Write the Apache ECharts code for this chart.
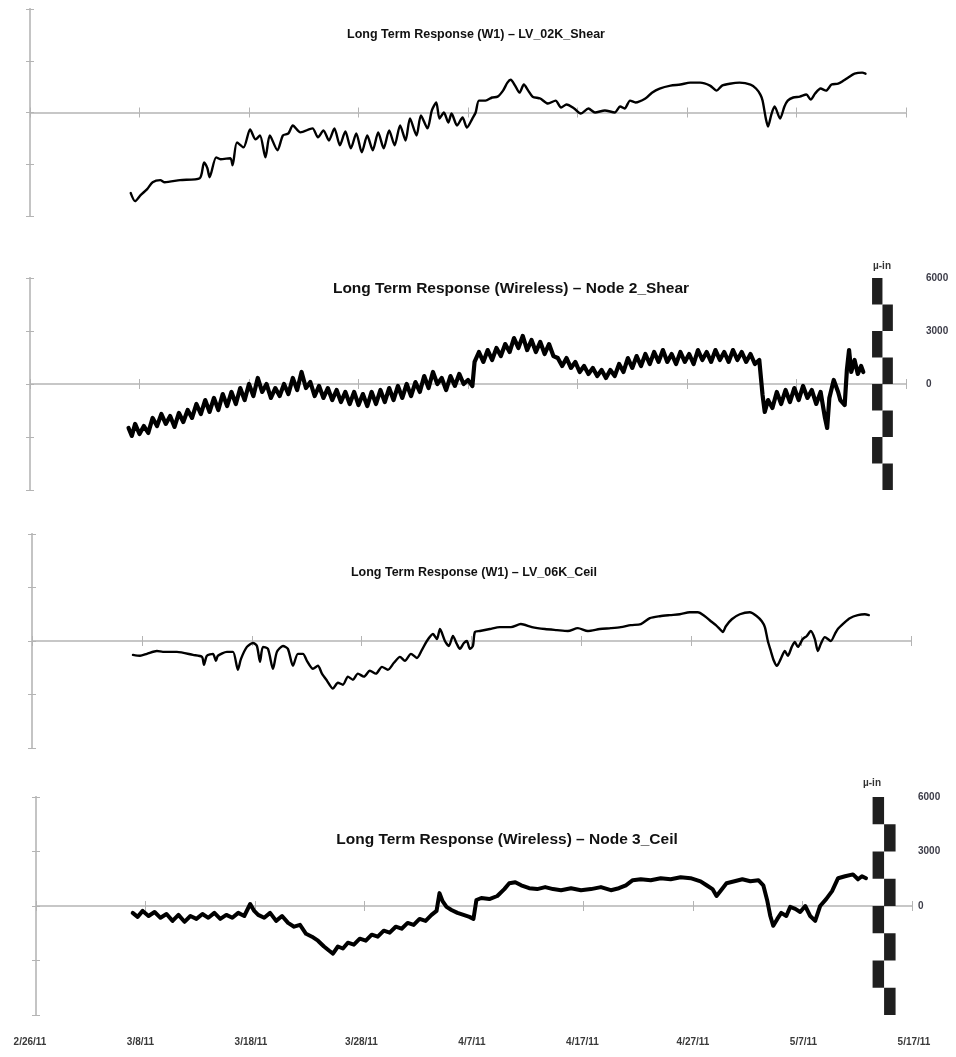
<!DOCTYPE html>
<html>
<head>
<meta charset="utf-8">
<script src="https://cdn.jsdelivr.net/npm/echarts/dist/echarts.min.js"></script>
<style>
  html, body { margin: 0; padding: 0; background: #fff; }
  #chart { width: 956px; height: 1057px; }
</style>
</head>
<body>
<div id="chart"></div>
<script>
// Days are counted from 2/26/11; strain values in micro-inches.
const dateTicks = ['2/26/11', '3/8/11', '3/18/11', '3/28/11', '4/7/11', '4/17/11', '4/27/11', '5/7/11', '5/17/11'];
const panelTitles = [
  'Long Term Response (W1) \u2013 LV_02K_Shear',
  'Long Term Response (Wireless) \u2013 Node 2_Shear',
  'Long Term Response (W1) \u2013 LV_06K_Ceil',
  'Long Term Response (Wireless) \u2013 Node 3_Ceil'
];
const scaleTicks = [6000, 3000, 0];
const scaleBlockTops = [6000, 4500, 3000, 1500, 0, -1500, -3000, -4500];
const scaleBlockSize = 1500;

const lv02kShear = [
  [9.2,-4670],[9.6,-5140],[10.1,-4790],[10.7,-4440],[11.2,-4040],[11.9,-3920],[12.3,-4040],[13.7,-3920],
  [15.5,-3810],[15.9,-2890],[16.2,-3230],[16.4,-3750],[17.0,-2600],[17.4,-2710],[18.3,-2650],[18.5,-3060],
  [18.9,-1730],[19.5,-2020],[20.1,-980],[20.6,-1560],[21.0,-1330],[21.5,-2600],[21.9,-1330],[22.6,-2190],
  [23.1,-1330],[23.6,-1210],[24.0,-750],[24.7,-1150],[25.8,-920],[26.3,-1440],[26.8,-1040],[27.3,-1620],
  [27.8,-920],[28.3,-1900],[28.8,-1100],[29.3,-2080],[29.8,-1210],[30.3,-2310],[30.8,-1330],[31.3,-2190],
  [31.8,-1150],[32.3,-2080],[32.8,-1040],[33.3,-1900],[33.8,-750],[34.3,-1620],[34.7,-350],[35.3,-1330],
  [35.7,-170],[36.3,-920],[36.7,120],[37.1,580],[37.4,-350],[37.8,0],[38.2,-580],[38.5,-60],[39.0,-750],
  [39.5,-290],[39.9,-870],[40.4,-350],[40.7,0],[41.0,690],[41.6,690],[42.2,870],[42.7,920],[43.2,1270],
  [43.6,1730],[43.9,1900],[44.3,1560],[44.7,1150],[45.1,1620],[45.5,1270],[45.9,920],[46.6,810],[47.3,520],
  [48.0,690],[48.5,290],[49.0,460],[49.7,230],[50.3,-60],[51.0,230],[51.6,0],[52.5,120],[53.4,0],[53.9,350],
  [54.3,230],[54.8,690],[55.3,580],[56.2,810],[56.8,1150],[57.5,1390],[58.5,1560],[59.4,1620],[60.3,1730],
  [61.2,1730],[62.1,1560],[62.7,1270],[63.2,1560],[63.9,1670],[64.8,1730],[65.8,1620],[66.3,1390],[66.7,1040],
  [66.9,690],[67.2,-350],[67.4,-810],[67.7,-120],[68.0,350],[68.5,-350],[68.9,350],[69.2,690],[69.7,870],
  [70.3,920],[70.9,1040],[71.3,750],[71.7,1100],[72.2,1390],[72.7,1270],[73.2,1620],[73.8,1670],[74.3,1850],
  [74.7,2020],[75.3,2250],[76.0,2310],[76.3,2250]
];

const node2Shear = [
  [9.0,-2490],[9.3,-2940],[9.6,-2260],[10.0,-2830],[10.4,-2380],[10.8,-2770],[11.2,-1920],[11.6,-2380],
  [12.0,-1700],[12.4,-2260],[12.8,-1810],[13.2,-2430],[13.6,-1640],[14.0,-2150],[14.4,-1470],[14.8,-1920],
  [15.2,-1130],[15.6,-1700],[16.0,-910],[16.4,-1580],[16.8,-790],[17.2,-1470],[17.6,-570],[18.0,-1250],
  [18.4,-450],[18.8,-1130],[19.2,-230],[19.6,-910],[20.0,0],[20.4,-680],[20.8,340],[21.2,-450],[21.6,0],
  [22.0,-790],[22.4,-230],[22.8,-680],[23.2,0],[23.6,-570],[24.0,340],[24.4,-340],[24.8,680],[25.2,-230],
  [25.6,110],[26.0,-680],[26.4,-110],[26.8,-790],[27.2,-230],[27.6,-910],[28.0,-340],[28.4,-1020],[28.8,-450],
  [29.2,-1130],[29.6,-450],[30.0,-1190],[30.4,-570],[30.8,-1250],[31.2,-450],[31.6,-1130],[32.0,-340],
  [32.4,-1020],[32.8,-230],[33.2,-910],[33.6,-110],[34.0,-790],[34.4,0],[34.8,-680],[35.2,110],[35.6,-450],
  [36.0,450],[36.4,-230],[36.8,680],[37.2,0],[37.6,340],[38.0,-340],[38.4,450],[38.8,-110],[39.2,570],
  [39.6,0],[40.0,230],[40.4,-110],[40.6,1250],[41.0,1810],[41.4,1250],[41.8,1920],[42.2,1360],[42.6,2040],
  [43.0,1580],[43.4,2260],[43.8,1810],[44.2,2600],[44.6,2040],[45.0,2720],[45.4,1920],[45.8,2490],[46.2,1810],
  [46.6,2380],[47.0,1700],[47.4,2260],[47.8,1580],[48.2,1470],[48.6,1020],[49.0,1470],[49.4,910],[49.8,1250],
  [50.2,680],[50.6,1020],[51.0,570],[51.4,910],[51.8,450],[52.2,790],[52.6,340],[53.0,790],[53.4,450],
  [53.8,1130],[54.2,680],[54.6,1470],[55.0,910],[55.4,1580],[55.8,1020],[56.2,1700],[56.6,1130],[57.0,1810],
  [57.4,1250],[57.8,1920],[58.2,1250],[58.6,1700],[59.0,1130],[59.4,1810],[59.8,1250],[60.2,1700],[60.6,1130],
  [61.0,1920],[61.4,1360],[61.8,1810],[62.2,1250],[62.6,1920],[63.0,1360],[63.4,1810],[63.8,1250],[64.2,1920],
  [64.6,1360],[65.0,1810],[65.4,1250],[65.8,1700],[66.2,1130],[66.6,1360],[66.9,-620],[67.1,-1580],[67.4,-910],
  [67.8,-1360],[68.2,-450],[68.6,-1130],[69.0,-340],[69.4,-1020],[69.8,-230],[70.2,-910],[70.6,-110],[71.0,-790],
  [71.4,-340],[71.8,-1130],[72.2,-450],[72.6,-1920],[72.8,-2490],[73.0,-790],[73.4,230],[73.8,-450],[74.0,-910],
  [74.4,-1190],[74.6,790],[74.8,1920],[75.0,680],[75.3,1360],[75.6,570],[75.9,1020],[76.1,680]
];

const lv06kCeil = [
  [9.19,-780],[9.83,-830],[10.46,-720],[11.37,-560],[11.92,-610],[13.19,-610],[14.65,-780],[15.47,-890],
  [15.65,-1330],[15.92,-830],[16.47,-720],[16.74,-1110],[16.92,-830],[17.74,-610],[18.29,-610],[18.74,-1610],
  [19.02,-1000],[19.56,-330],[20.11,-110],[20.47,-280],[20.75,-1170],[21.02,-330],[21.47,-440],[21.93,-1560],
  [22.29,-610],[22.84,-280],[23.29,-440],[23.75,-1390],[24.2,-720],[24.66,-720],[25.02,-1110],[25.57,-1560],
  [26.02,-1390],[26.39,-1830],[26.84,-2220],[27.39,-2670],[27.84,-2340],[28.3,-2450],[28.75,-2000],[29.21,-2170],
  [29.66,-1830],[30.21,-2000],[30.75,-1670],[31.3,-1830],[31.85,-1450],[32.39,-1610],[32.94,-1220],[33.49,-890],
  [33.94,-1110],[34.49,-720],[35.03,-950],[35.49,-500],[35.94,0],[36.49,390],[36.85,110],[37.13,670],
  [37.58,0],[37.94,-280],[38.31,280],[38.67,-170],[38.94,-440],[39.31,-110],[39.58,0],[39.85,-440],
  [40.13,-280],[40.31,500],[40.76,560],[41.67,670],[42.58,780],[43.59,780],[44.49,950],[45.5,780],
  [46.68,670],[47.77,610],[48.77,560],[49.68,720],[50.59,560],[51.68,670],[52.68,720],[53.59,780],
  [54.5,890],[55.41,950],[56.23,1280],[57.14,1390],[58.05,1450],[58.96,1500],[59.87,1610],[60.6,1610],
  [61.24,1390],[61.78,1110],[62.24,890],[62.6,670],[62.87,500],[63.15,830],[63.69,1220],[64.42,1500],
  [65.33,1610],[65.97,1390],[66.42,1110],[66.7,780],[66.97,0],[67.24,-560],[67.52,-1110],[67.79,-1390],
  [68.15,-1000],[68.52,-560],[68.79,-830],[69.15,-330],[69.43,-60],[69.7,-330],[70.15,110],[70.52,280],
  [70.88,560],[71.25,110],[71.52,-560],[71.79,-170],[72.16,220],[72.7,0],[73.07,390],[73.34,670],
  [73.89,1000],[74.43,1280],[75.16,1450],[75.8,1500],[76.16,1450]
];

const node3Ceil = [
  [8.83,-380],[9.28,-600],[9.74,-270],[10.28,-550],[10.83,-330],[11.37,-650],[11.92,-440],[12.47,-820],
  [13.01,-490],[13.56,-870],[14.1,-550],[14.65,-710],[15.2,-440],[15.74,-650],[16.29,-380],[16.83,-710],
  [17.38,-490],[17.93,-650],[18.47,-380],[19.02,-550],[19.56,110],[19.93,-270],[20.29,-490],[20.84,-650],
  [21.38,-380],[21.93,-820],[22.47,-550],[23.02,-930],[23.57,-1140],[24.11,-1040],[24.66,-1530],[25.2,-1690],
  [25.75,-1910],[26.3,-2230],[26.75,-2450],[27.12,-2620],[27.57,-2230],[28.03,-2340],[28.48,-2020],[29.03,-2130],
  [29.57,-1800],[30.12,-1910],[30.66,-1580],[31.21,-1690],[31.76,-1360],[32.3,-1470],[32.85,-1140],[33.39,-1250],
  [33.94,-930],[34.49,-1040],[35.03,-710],[35.58,-820],[36.12,-490],[36.58,-270],[36.85,710],[37.13,270],
  [37.49,-50],[37.94,-220],[38.49,-380],[39.04,-490],[39.58,-600],[39.95,-710],[40.22,330],[40.67,440],
  [41.4,380],[42.13,550],[42.77,930],[43.22,1250],[43.77,1310],[44.31,1140],[45.04,980],[45.77,930],
  [46.5,1040],[47.22,930],[47.95,870],[48.86,980],[49.77,870],[50.68,930],[51.59,1040],[52.5,870],
  [53.23,980],[53.87,1140],[54.5,1420],[55.23,1470],[56.14,1420],[57.05,1530],[57.96,1470],[58.87,1580],
  [59.78,1530],[60.69,1360],[61.24,1140],[61.78,930],[62.15,550],[62.51,820],[63.06,1250],[63.79,1360],
  [64.51,1470],[65.24,1360],[65.97,1420],[66.42,1140],[66.79,270],[67.06,-550],[67.33,-1090],[67.7,-710],
  [68.06,-380],[68.52,-550],[68.88,-50],[69.34,-160],[69.79,-330],[70.25,0],[70.7,-550],[71.16,-820],
  [71.61,0],[72.16,380],[72.7,820],[73.25,1530],[73.89,1640],[74.61,1740],[75.07,1470],[75.43,1640],[75.8,1530]
];

// Panel layout: plot boxes, title anchors and sizes, line weights and scale-bar placement.
const panels = [
  { title: panelTitles[0], data: lv02kShear, box: { left: 30, top: 9, width: 876, height: 207 },
    titleX: 471, titleY: 23, titleSize: 12.5, lineWidth: 2.4, smooth: 0.25 },
  { title: panelTitles[1], data: node2Shear, box: { left: 30, top: 278, width: 876, height: 212 },
    titleX: 506, titleY: 276, titleSize: 15.5, lineWidth: 4.2, smooth: false,
    scale: { col: 76.9, colWidth: 0.95, axisOffset: -24, labelMargin: 44, nameGap: 7 } },
  { title: panelTitles[2], data: lv06kCeil, box: { left: 32, top: 534, width: 879, height: 214 },
    titleX: 469, titleY: 561, titleSize: 12.5, lineWidth: 2.4, smooth: 0.25 },
  { title: panelTitles[3], data: node3Ceil, box: { left: 36, top: 797, width: 876, height: 218 },
    titleX: 502, titleY: 827, titleSize: 15.5, lineWidth: 4, smooth: false,
    scale: { col: 76.4, colWidth: 1.05, axisOffset: -40, labelMargin: 46, nameGap: 9 } }
];

const axisGray = '#c4c4c4';
const tickGray = '#b4b4b4';
const labelFont = "'Liberation Sans', Arial, sans-serif";

const option = {
  animation: false,
  backgroundColor: '#ffffff',
  title: [], grid: [], xAxis: [], yAxis: [], series: []
};

panels.forEach((p, i) => {
  option.grid.push(Object.assign({ containLabel: false }, p.box));
  option.title.push({
    text: p.title, left: p.titleX, top: p.titleY, textAlign: 'center',
    textStyle: { fontFamily: "'Liberation Sans', Arial, sans-serif", fontWeight: 'bold', fontSize: p.titleSize, color: '#111' }
  });

  // Twin axes on the zero lines so the ticks cross each axis line.
  const xIndex = option.xAxis.length;
  ['bottom', 'top'].forEach(pos => option.xAxis.push({
    gridIndex: i, type: 'value', min: 0, max: 80, interval: 10, position: pos,
    axisLine: { show: true, onZero: true, lineStyle: { color: axisGray, width: 1.5 } },
    axisTick: { show: true, length: 5, lineStyle: { color: tickGray, width: 1 } },
    axisLabel: { show: false }, splitLine: { show: false }
  }));
  const yIndex = option.yAxis.length;
  ['left', 'right'].forEach(pos => option.yAxis.push({
    gridIndex: i, type: 'value', min: -6000, max: 6000, interval: 3000, position: pos,
    axisLine: { show: true, onZero: true, lineStyle: { color: axisGray, width: 2 } },
    axisTick: { show: true, length: 4, lineStyle: { color: tickGray, width: 1 } },
    axisLabel: { show: false }, splitLine: { show: false }
  }));

  option.series.push({
    type: 'line', name: p.title, xAxisIndex: xIndex, yAxisIndex: yIndex, data: p.data,
    showSymbol: false, smooth: p.smooth, z: 5,
    lineStyle: { color: '#000', width: p.lineWidth, join: 'round', cap: 'round' }
  });

  if (p.scale) {
    const s = p.scale;
    option.yAxis.push({
      gridIndex: i, type: 'value', min: -6000, max: 6000, interval: 3000, position: 'right', offset: s.axisOffset,
      name: '\u00b5-in', nameLocation: 'end', nameGap: s.nameGap,
      nameTextStyle: { fontFamily: labelFont, fontWeight: 'bold', fontSize: 10, color: '#333' },
      axisLine: { show: false, onZero: false }, axisTick: { show: false }, splitLine: { show: false },
      axisLabel: {
        show: true, margin: s.labelMargin, align: 'left',
        fontFamily: labelFont, fontSize: 10, fontWeight: 'bold', color: '#3c3c48',
        formatter: v => (scaleTicks.indexOf(v) >= 0 ? String(v) : '')
      }
    });
    option.series.push({
      type: 'custom', xAxisIndex: xIndex, yAxisIndex: yIndex, clip: false, z: 6, silent: true,
      data: scaleBlockTops.map((top, k) => [top, k % 2]),
      renderItem: (params, api) => {
        const top = api.value(0);
        const x0 = s.col + api.value(1) * s.colWidth;
        const a = api.coord([x0, top]);
        const b = api.coord([x0 + s.colWidth, top - scaleBlockSize]);
        return { type: 'rect', shape: { x: a[0], y: a[1], width: b[0] - a[0], height: b[1] - a[1] },
                 style: { fill: '#1f1f1f' } };
      }
    });
  }
});

// Shared date labels along the foot of the figure.
const footGrid = option.grid.length;
option.grid.push({ left: 30, top: 1032, width: 884, height: 1 });
option.xAxis.push({
  gridIndex: footGrid, type: 'value', min: 0, max: 80, interval: 10, position: 'bottom',
  axisLine: { show: false }, axisTick: { show: false }, splitLine: { show: false },
  axisLabel: {
    show: true, margin: 4, fontFamily: labelFont, fontSize: 10, fontWeight: 'bold', color: '#3a3a3a',
    showMinLabel: true, showMaxLabel: true,
    formatter: v => dateTicks[Math.round(v / 10)]
  }
});
option.yAxis.push({ gridIndex: footGrid, type: 'value', show: false });

const chart = echarts.init(document.getElementById('chart'), null, { renderer: 'canvas' });
chart.setOption(option);
</script>
</body>
</html>
